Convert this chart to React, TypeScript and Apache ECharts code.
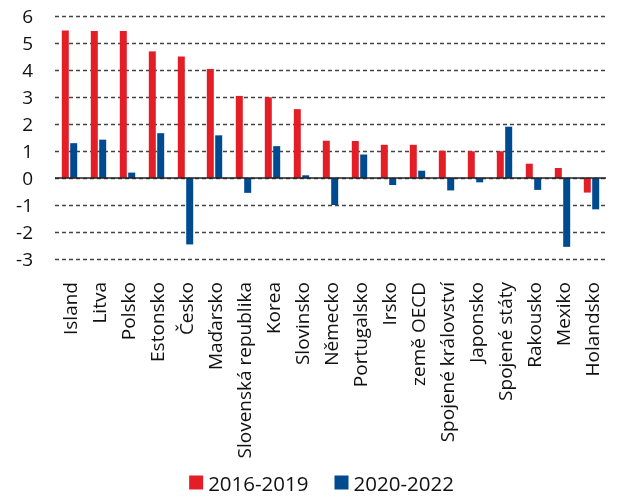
import React, { useEffect, useRef } from "react";
import * as echarts from "echarts";

const categories = [
  "Island", "Litva", "Polsko", "Estonsko", "Česko", "Maďarsko", "Slovenská republika",
  "Korea", "Slovinsko", "Německo", "Portugalsko", "Irsko", "země OECD",
  "Spojené království", "Japonsko", "Spojené státy", "Rakousko", "Mexiko", "Holandsko",
];
const series2016 = [5.46, 5.44, 5.44, 4.69, 4.5, 4.04, 3.04, 2.99, 2.55, 1.38, 1.37, 1.23, 1.23, 1.01, 0.99, 0.99, 0.53, 0.37, -0.54];
const series2020 = [1.29, 1.42, 0.2, 1.66, -2.46, 1.58, -0.55, 1.18, 0.1, -1.0, 0.87, -0.26, 0.27, -0.46, -0.16, 1.9, -0.44, -2.55, -1.16];
const seriesNames = ["2016-2019", "2020-2022"];
const yMin = -3;
const yMax = 6;
const yInterval = 1;

export default function App() {
  const ref = useRef<HTMLDivElement>(null);
  useEffect(() => {
    if (!ref.current) return;
    const chart = echarts.init(ref.current, null, { renderer: "svg" });
    const font = "'Open Sans', sans-serif";
    chart.setOption({
      animation: false,
      textStyle: { fontFamily: font },
      grid: { left: 55, right: 37, top: 16, bottom: 238, containLabel: false },
      legend: {
        data: seriesNames,
        left: "center",
        top: 472,
        padding: 0,
        itemWidth: 14,
        itemHeight: 14,
        itemGap: 26,
        icon: "rect",
        textStyle: { fontSize: 20.5, lineHeight: 20, color: "#111", fontFamily: font },
      },
      xAxis: {
        type: "category",
        data: categories,
        axisLine: { show: false, onZero: false },
        axisTick: { show: false },
        axisLabel: { rotate: 90, fontSize: 19, color: "#111", margin: 23, interval: 0, fontFamily: font },
      },
      yAxis: {
        type: "value",
        min: yMin,
        max: yMax,
        interval: yInterval,
        axisLine: { show: false },
        axisTick: { show: false },
        axisLabel: { fontSize: 19, color: "#111", margin: 22, fontFamily: font },
        splitLine: { lineStyle: { type: [4, 3], color: "#444", width: 1.4 } },
      },
      series: [
        {
          name: seriesNames[0],
          type: "bar",
          data: series2016,
          barWidth: 7,
          barGap: "20%",
          itemStyle: { color: "#e41e26" },
          markLine: {
            silent: true,
            symbol: "none",
            label: { show: false },
            lineStyle: { type: "solid", color: "#222", width: 1.5 },
            data: [{ yAxis: 0 }],
          },
        },
        {
          name: seriesNames[1],
          type: "bar",
          data: series2020,
          barWidth: 7,
          barGap: "20%",
          itemStyle: { color: "#004a8f" },
        },
      ],
    });
    return () => chart.dispose();
  }, []);
  return <div ref={ref} style={{ position: "fixed", left: 0, top: 0, width: 643, height: 497 }} />;
}
